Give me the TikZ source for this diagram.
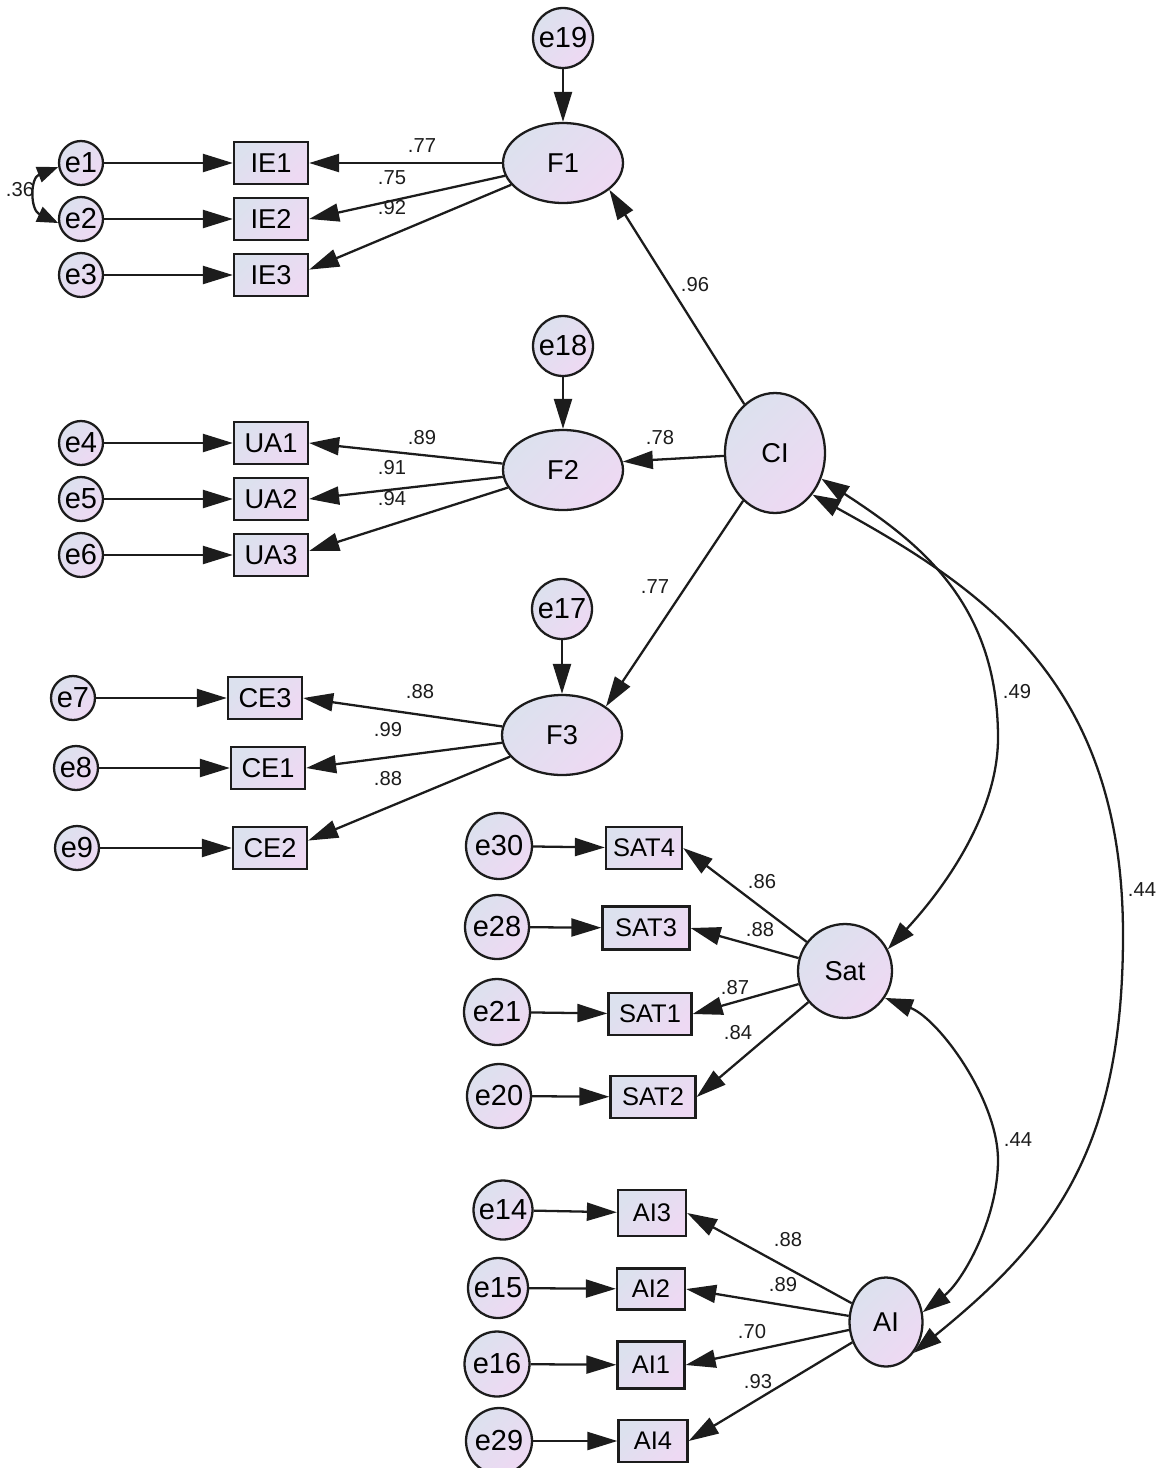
\documentclass[tikz,border=0pt]{standalone}
\usepackage{fontspec}
\setmainfont{Liberation Sans}
\usetikzlibrary{arrows.meta,shapes.geometric}

\definecolor{shadeA}{HTML}{DCE1EE}
\definecolor{shadeB}{HTML}{EED9F3}
\definecolor{ink}{HTML}{1C1C1C}

\newcommand\errfont{\fontsize{16.5}{16.5}\selectfont}
\newcommand\varfont{\fontsize{15.5}{15.5}\selectfont}
\newcommand\boxfont{\fontsize{14.5}{14.5}\selectfont}
\newcommand\coeffont{\fontsize{11.5}{11.5}\selectfont}

\tikzset{
  grad/.style={top color=shadeA, bottom color=shadeB, shading angle=45},
  nodeline/.style={draw=ink, line width=1.3pt},
  errnode/.style={circle, nodeline, grad, inner sep=0pt, minimum size=#1, font=\errfont},
  latent/.style 2 args={ellipse, nodeline, grad, inner sep=0pt, minimum width=#1, minimum height=#2, font=\varfont},
  obsbox/.style 2 args={rectangle, nodeline, grad, inner sep=0pt, minimum width=#1, minimum height=#2, font=\varfont},
  satbox/.style 2 args={obsbox={#1}{#2}, font=\boxfont},
  coef/.style={font=\coeffont, inner sep=1pt, text=ink},
  arr/.style={draw=ink, line width=1.3pt, -{Triangle[length=0.6cm,width=0.36cm]}},
  biarr/.style={draw=ink, line width=1.3pt, {Triangle[length=0.56cm,width=0.36cm]}-{Triangle[length=0.56cm,width=0.36cm]}},
  smallbi/.style={draw=ink, line width=1.3pt, {Triangle[length=0.42cm,width=0.32cm]}-{Triangle[length=0.42cm,width=0.32cm]}},
}

\begin{document}
\begin{tikzpicture}[x=0.02cm, y=-0.02cm]
\useasboundingbox (0,0) rectangle (1172,1468);

% ---------- first-order factors and their indicators ----------
\node[errnode=1.2cm] (e19) at (563,38) {e19};
\node[latent={2.4cm}{1.6cm}] (F1) at (563,163) {F1};
\node[errnode=0.88cm] (e1) at (81,163) {e1};
\node[errnode=0.88cm] (e2) at (81,219) {e2};
\node[errnode=0.88cm] (e3) at (81,275) {e3};
\node[obsbox={1.48cm}{0.84cm}] (IE1) at (271,163) {IE1};
\node[obsbox={1.48cm}{0.84cm}] (IE2) at (271,219) {IE2};
\node[obsbox={1.48cm}{0.84cm}] (IE3) at (271,275) {IE3};

\node[errnode=1.2cm] (e18) at (563,346) {e18};
\node[latent={2.4cm}{1.6cm}] (F2) at (563,470) {F2};
\node[errnode=0.88cm] (e4) at (81,443) {e4};
\node[errnode=0.88cm] (e5) at (81,499) {e5};
\node[errnode=0.88cm] (e6) at (81,555) {e6};
\node[obsbox={1.48cm}{0.84cm}] (UA1) at (271,443) {UA1};
\node[obsbox={1.48cm}{0.84cm}] (UA2) at (271,499) {UA2};
\node[obsbox={1.48cm}{0.84cm}] (UA3) at (271,555) {UA3};

\node[latent={2.0cm}{2.4cm}] (CI) at (775,453) {CI};

\node[errnode=1.2cm] (e17) at (562,609) {e17};
\node[latent={2.4cm}{1.6cm}] (F3) at (562,735) {F3};
\node[errnode=0.88cm] (e7) at (73,698) {e7};
\node[errnode=0.88cm] (e8) at (76,768) {e8};
\node[errnode=0.88cm] (e9) at (77,848) {e9};
\node[obsbox={1.48cm}{0.84cm}] (CE3) at (265,698) {CE3};
\node[obsbox={1.48cm}{0.84cm}] (CE1) at (268,768) {CE1};
\node[obsbox={1.48cm}{0.84cm}] (CE2) at (270,848) {CE2};

% ---------- satisfaction ----------
\node[errnode=1.32cm] (e30) at (499,846) {e30};
\node[errnode=1.28cm] (e28) at (497,927) {e28};
\node[errnode=1.32cm] (e21) at (497,1012) {e21};
\node[errnode=1.28cm] (e20) at (499,1096) {e20};
\node[satbox={1.52cm}{0.84cm}] (SAT4) at (644,848) {SAT4};
\node[satbox={1.74cm}{0.86cm}] (SAT3) at (646,928) {SAT3};
\node[satbox={1.66cm}{0.84cm}] (SAT1) at (650,1014) {SAT1};
\node[satbox={1.7cm}{0.84cm}] (SAT2) at (653,1097) {SAT2};
\node[errnode=1.88cm, font=\varfont] (Sat) at (845,971) {Sat};

% ---------- AI ----------
\node[errnode=1.18cm] (e14) at (503,1210) {e14};
\node[errnode=1.2cm] (e15) at (498,1288) {e15};
\node[errnode=1.3cm] (e16) at (497,1364) {e16};
\node[errnode=1.32cm] (e29) at (499,1441) {e29};
\node[satbox={1.36cm}{0.92cm}] (AI3) at (652,1213) {AI3};
\node[satbox={1.36cm}{0.82cm}] (AI2) at (651,1289) {AI2};
\node[satbox={1.34cm}{0.94cm}] (AI1) at (651,1365) {AI1};
\node[satbox={1.38cm}{0.84cm}] (AI4) at (653,1441) {AI4};
\node[latent={1.46cm}{1.78cm}] (AI) at (886,1322) {AI};

% ---------- error terms to variables ----------
\foreach \a/\b in {e19/F1, e18/F2, e17/F3, e1/IE1, e2/IE2, e3/IE3, e4/UA1, e5/UA2, e6/UA3,
                   e7/CE3, e8/CE1, e9/CE2, e30/SAT4, e28/SAT3, e21/SAT1, e20/SAT2,
                   e14/AI3, e15/AI2, e16/AI1, e29/AI4}
  \draw[arr] (\a) -- (\b);

% ---------- loadings ----------
\draw[arr] (F1) -- (IE1);
\draw[arr] (F1) -- (IE2.east);
\draw[arr] (F1) -- (IE3.8);
\draw[arr] (F2) -- (UA1.east);
\draw[arr] (F2) -- (UA2.east);
\draw[arr] (F2) -- (UA3.6);
\draw[arr] (F3) -- (CE3.east);
\draw[arr] (F3) -- (CE1.east);
\draw[arr] (F3) -- (CE2.11);
\draw[arr] (CI) -- (F1.-30);
\draw[arr] (CI) -- (F2.8);
\draw[arr] (CI) -- (F3.33);
\draw[arr] (Sat) -- (SAT4.east);
\draw[arr] (Sat) -- (SAT3.east);
\draw[arr] (Sat) -- (SAT1.east);
\draw[arr] (Sat) -- (SAT2.east);
\draw[arr] (AI) -- (AI3.east);
\draw[arr] (AI) -- (AI2.east);
\draw[arr] (AI) -- (AI1.east);
\draw[arr] (AI) -- (AI4.east);

% ---------- covariances ----------
\draw[smallbi] (e1.190) .. controls (30,178) and (30,210) .. (e2.190);
\coordinate (m49) at (998,738);
\coordinate (m44a) at (1123,935);
\coordinate (m44b) at (998,1160);
\draw[biarr] (CI.-29) .. controls (915,540) and (998,600) .. (m49)
                      .. controls (998,808) and (951,881) .. (Sat.27);
\draw[biarr] (CI.-48) .. controls (988,591) and (1123,685) .. (m44a)
                      .. controls (1123,1150) and (1053,1240) .. (AI.-48);
\draw[biarr] (Sat.-34) .. controls (939,1019) and (998,1100) .. (m44b)
                       .. controls (998,1220) and (962,1282) .. (AI.15);

% ---------- coefficients ----------
\node[coef] (c1) at (422,146) {.77};
\node[coef] (c2) at (392,178) {.75};
\node[coef] (c3) at (392,208) {.92};
\node[coef] (c4) at (20,190) {.36};
\node[coef] (c5) at (695,285) {.96};
\node[coef] (c6) at (422,438) {.89};
\node[coef] (c7) at (392,468) {.91};
\node[coef] (c8) at (392,499) {.94};
\node[coef] (c9) at (660,438) {.78};
\node[coef] (c10) at (655,587) {.77};
\node[coef] (c11) at (420,692) {.88};
\node[coef] (c12) at (388,730) {.99};
\node[coef] (c13) at (388,779) {.88};
\node[coef] (c14) at (1017,692) {.49};
\node[coef] (c15) at (1142,890) {.44};
\node[coef] (c16) at (762,882) {.86};
\node[coef] (c17) at (760,930) {.88};
\node[coef] (c18) at (735,988) {.87};
\node[coef] (c19) at (738,1033) {.84};
\node[coef] (c20) at (1018,1140) {.44};
\node[coef] (c21) at (788,1240) {.88};
\node[coef] (c22) at (783,1285) {.89};
\node[coef] (c23) at (752,1332) {.70};
\node[coef] (c24) at (758,1382) {.93};
\end{tikzpicture}
\end{document}
